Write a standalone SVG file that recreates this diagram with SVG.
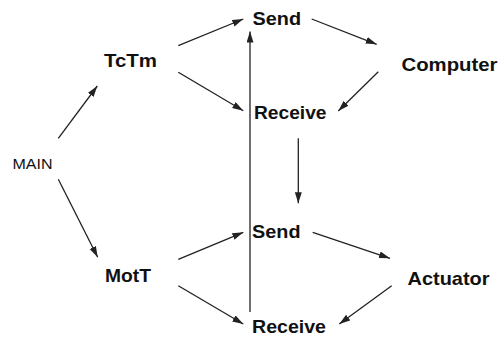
<svg xmlns="http://www.w3.org/2000/svg" width="499" height="338" viewBox="0 0 499 338">
<style>
.n{font-family:"Liberation Sans",Arial,sans-serif;font-weight:bold;font-size:19px;fill:#111}
.m{font-family:"Liberation Sans",Arial,sans-serif;font-size:14.5px;fill:#111}
.c line{stroke:#222;stroke-width:1.3;marker-end:url(#ah)}
</style>
<defs>
<marker id="ah" markerUnits="userSpaceOnUse" markerWidth="12" markerHeight="8" refX="11" refY="3.5" orient="auto">
<path d="M0,0 L11,3.5 L0,7 z" fill="#222"/>
</marker>
</defs>
<rect width="499" height="338" fill="#fff"/>
<g id="main"><text class="m" x="12.5" y="169" textLength="40" lengthAdjust="spacingAndGlyphs">MAIN</text></g>
<g id="tctm"><text class="n" x="104" y="67" textLength="53" lengthAdjust="spacingAndGlyphs">TcTm</text></g>
<g id="send1"><text class="n" x="252.5" y="25" textLength="48.5" lengthAdjust="spacingAndGlyphs">Send</text></g>
<g id="computer"><text class="n" x="401.5" y="71" textLength="96" lengthAdjust="spacingAndGlyphs">Computer</text></g>
<g id="receive1"><text class="n" x="254" y="119" textLength="72.5" lengthAdjust="spacingAndGlyphs">Receive</text></g>
<g id="send2"><text class="n" x="252" y="238" textLength="48.5" lengthAdjust="spacingAndGlyphs">Send</text></g>
<g id="actuator"><text class="n" x="407.5" y="285" textLength="82" lengthAdjust="spacingAndGlyphs">Actuator</text></g>
<g id="mott"><text class="n" x="105" y="281.5" textLength="46" lengthAdjust="spacingAndGlyphs">MotT</text></g>
<g id="receive2"><text class="n" x="252" y="333" textLength="74" lengthAdjust="spacingAndGlyphs">Receive</text></g>
<g id="connectors" class="c">
<line x1="58.3" y1="138.3" x2="97.3" y2="86"/>
<line x1="58.3" y1="179.3" x2="97.7" y2="257.3"/>
<line x1="178.3" y1="45.7" x2="243.3" y2="19"/>
<line x1="178.3" y1="72.3" x2="243.3" y2="110.7"/>
<line x1="311.7" y1="19" x2="376.7" y2="44.3"/>
<line x1="378.3" y1="71.7" x2="338.3" y2="111"/>
<line x1="250" y1="312" x2="250" y2="31.5"/>
<line x1="298.3" y1="138.3" x2="298.3" y2="203.3"/>
<line x1="178.3" y1="259.3" x2="243.3" y2="232.3"/>
<line x1="178.3" y1="285.7" x2="243.3" y2="324"/>
<line x1="312.7" y1="232.3" x2="390" y2="258.3"/>
<line x1="391.7" y1="285.7" x2="339.3" y2="324"/>
</g>
</svg>
